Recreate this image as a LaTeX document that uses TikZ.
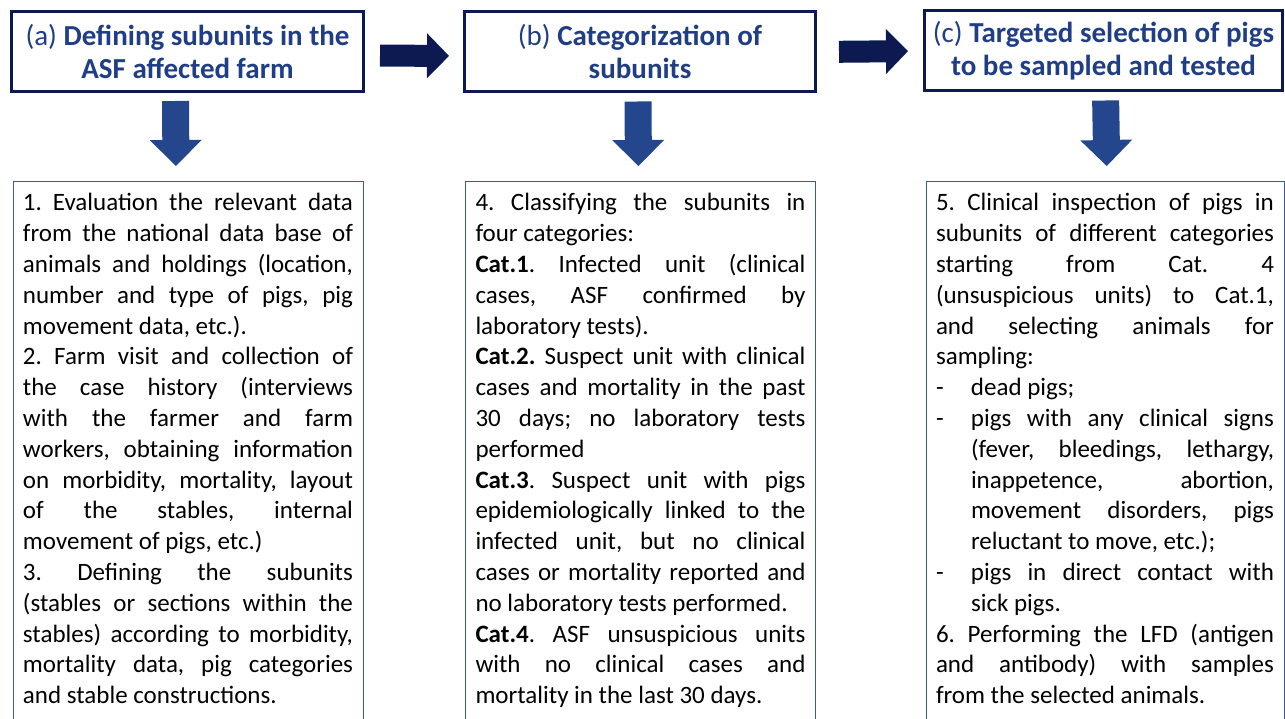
\documentclass[tikz,border=0pt]{standalone}
\usepackage{fontspec}
\setmainfont{Carlito}
\usetikzlibrary{arrows.meta}
\definecolor{framenavy}{HTML}{0D1A52}
\definecolor{titleblue}{HTML}{1F3E85}
\definecolor{arrowblue}{HTML}{24468C}
\definecolor{boxblue}{HTML}{3A5A9A}
\frenchspacing
\tolerance=10000
\hbadness=10000
\hyphenpenalty=10000
\exhyphenpenalty=10000
\begin{document}
\begin{tikzpicture}
  [x=1pt,y=-1pt,
   head/.style={draw=framenavy,line width=3pt,minimum height=80pt,align=center,text=titleblue,
     font=\fontsize{29}{33}\selectfont\bfseries},
   body/.style={draw=boxblue,line width=1pt,anchor=north,align=justify,inner xsep=10pt,inner ysep=12pt,
     text depth=540pt,font=\fontsize{25}{30.8}\selectfont},
   rarrow/.style={draw=framenavy,line width=22pt,-{Triangle[length=22pt,width=45pt,line width=0pt]}},
   darrow/.style={draw=arrowblue,line width=27pt,-{Triangle[length=26pt,width=52pt,line width=0pt]}}]
  \useasboundingbox (0,0) rectangle (1285,719);

  \node (ha)[head,minimum width=352pt] at (187.5,51.5) {{\mdseries(a)} Defining subunits in the\\ASF affected farm};
  \node (hb)[head,minimum width=351pt] at (640,52) {{\mdseries(b)} Categorization of\\subunits};
  \node (hc)[head,minimum width=358pt] at (1103.5,51) {{\mdseries(c)} Targeted selection of pigs\\to be sampled and tested};

  \node (ba)[body,text width=330pt] at (188,181) {1. Evaluation the relevant data \linebreak
    from the national data base of \linebreak
    animals and holdings (location, \linebreak
    number and type of pigs, pig \linebreak
    movement data, etc.).\par
    2. Farm visit and collection of \linebreak
    the case history (interviews \linebreak
    with the farmer and farm \linebreak
    workers, obtaining information \linebreak
    on morbidity, mortality, layout \linebreak
    of the stables, internal \linebreak
    movement of pigs, etc.)\par
    3. Defining the subunits \linebreak
    (stables or sections within the \linebreak
    stables) according to morbidity, \linebreak
    mortality data, pig categories \linebreak
    and stable constructions.};
  \node (bb)[body,text width=330pt] at (640.5,181) {4. Classifying the subunits in \linebreak
    four categories:\par
    \textbf{Cat.1}. Infected unit (clinical \linebreak
    cases, ASF confirmed by \linebreak
    laboratory tests).\par
    \textbf{Cat.2.} Suspect unit with clinical \linebreak
    cases and mortality in the past \linebreak
    30 days; no laboratory tests \linebreak
    performed\par
    \textbf{Cat.3}. Suspect unit with pigs \linebreak
    epidemiologically linked to the \linebreak
    infected unit, but no clinical \linebreak
    cases or mortality reported and \linebreak
    no laboratory tests performed.\par
    \textbf{Cat.4}. ASF unsuspicious units \linebreak
    with no clinical cases and \linebreak
    mortality in the last 30 days.};
  \node (bc)[body,text width=338pt] at (1105,181) {5. Clinical inspection of pigs in \linebreak
    subunits of different categories \linebreak
    starting from Cat. 4 \linebreak
    (unsuspicious units) to Cat.1, \linebreak
    and selecting animals for \linebreak
    sampling:\par
    \hangindent=35pt\hangafter=1\makebox[35pt][l]{-}dead pigs;\par
    \hangindent=35pt\hangafter=1\makebox[35pt][l]{-}pigs with any clinical signs \linebreak
    (fever, bleedings, lethargy, \linebreak
    inappetence, abortion, \linebreak
    movement disorders, pigs \linebreak
    reluctant to move, etc.);\par
    \hangindent=35pt\hangafter=1\makebox[35pt][l]{-}pigs in direct contact with \linebreak
    sick pigs.\par
    6. Performing the LFD (antigen \linebreak
    and antibody) with samples \linebreak
    from the selected animals.};

  \foreach \from/\to/\sa/\sb/\dy in {ha/hb/15/14/4, hb/hc/22/15/0}
    \draw[rarrow,shorten <=\sa pt,shorten >=\sb pt] ([yshift=-\dy pt]\from.east) -- ([yshift=-\dy pt]\to.west);
  \foreach \from/\to/\dx in {ha/ba/-12, hb/bb/-2, hc/bc/2}
    \draw[darrow,shorten <=8pt,shorten >=15pt] ([xshift=\dx pt]\from.south) -- ([xshift=\dx pt]\to.north);

\end{tikzpicture}
\end{document}
